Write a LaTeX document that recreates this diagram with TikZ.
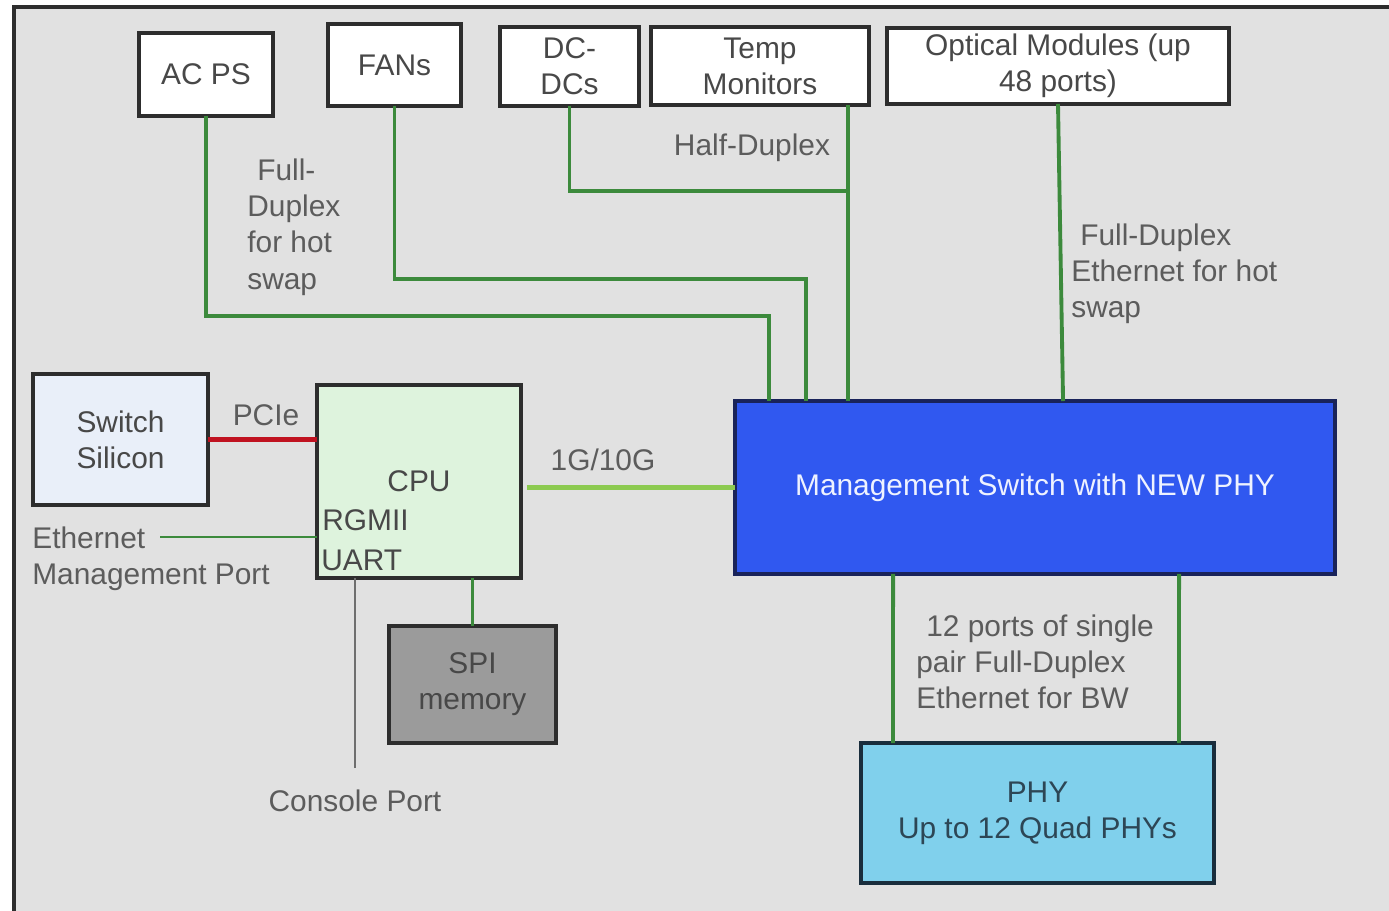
\documentclass[tikz,border=0pt]{standalone}
\usepackage{fontspec}
\setmainfont{Liberation Sans}
\usetikzlibrary{calc}
\definecolor{bgc}{RGB}{225,225,225}
\definecolor{framec}{RGB}{45,45,45}
\definecolor{gline}{RGB}{60,138,60}
\definecolor{lgline}{RGB}{140,202,80}
\definecolor{redl}{RGB}{192,18,32}
\definecolor{labc}{RGB}{92,92,92}
\definecolor{boxtxt}{RGB}{72,72,72}
\definecolor{mgmtc}{RGB}{48,88,240}
\definecolor{phyc}{RGB}{128,208,236}
\definecolor{spic}{RGB}{155,155,155}
\definecolor{swc}{RGB}{233,239,249}
\definecolor{cpuc}{RGB}{222,243,221}
\tikzset{
  txt/.style={font=\fontsize{17}{20.6}\selectfont},
  box/.style={draw=framec, line width=2pt, fill=white, inner sep=0pt, outer sep=0pt,
     align=center, text=boxtxt, txt},
  lab/.style={inner sep=0pt, text=labc, txt},
  wire/.style={draw=gline, line width=2.2pt},
}
\begin{document}
\begin{tikzpicture}[x=0.02cm,y=-0.02cm]
\useasboundingbox (0,0) rectangle (1389,911);
\fill[white] (0,0) rectangle (1389,911);
\fill[bgc] (14,7) rectangle (1389,911);
\draw[framec, line width=2pt] (14,911) -- (14,7) -- (1389,7);

% top boxes
\node[box, minimum width=2.68cm, minimum height=1.66cm] (acps) at (206,74.5) {AC PS};
\node[box, minimum width=2.66cm, minimum height=1.64cm] (fans) at (394.5,65) {FANs};
\node[box, minimum width=2.78cm, minimum height=1.58cm] (dcdc) at (569.5,66.5) {DC-\\DCs};
\node[box, minimum width=4.36cm, minimum height=1.56cm] (temp) at (760,66) {Temp\\Monitors};
\node[box, minimum width=6.84cm, minimum height=1.52cm] (optical) at (1058,66) {Optical Modules (up\\48 ports)};

% middle boxes
\node[box, fill=swc, minimum width=3.50cm, minimum height=2.62cm] (sw) at (120.5,439.5) {Switch\\Silicon};
\node[box, fill=cpuc, minimum width=4.08cm, minimum height=3.86cm] (cpu) at (419,481.5) {CPU};
\node[box, fill=spic, minimum width=3.34cm, minimum height=2.34cm] (spi) at (472.5,684.5) {SPI\\memory};
\node[box, fill=mgmtc, draw={rgb,255:red,25;green,35;blue,90}, text={rgb,255:red,238;green,242;blue,255},
      minimum width=12.00cm, minimum height=3.46cm] (mgmt) at (1035,487.5) {Management Switch with NEW PHY};
\node[box, fill=phyc, draw={rgb,255:red,25;green,45;blue,60}, text={rgb,255:red,45;green,70;blue,85},
      minimum width=7.06cm, minimum height=2.80cm] (phy) at (1037.5,813) {PHY\\Up to 12 Quad PHYs};

% CPU inner labels
\node[lab, anchor=west, text=boxtxt] (rgmii) at (322,520) {RGMII};
\node[lab, anchor=west, text=boxtxt] (uart) at (321,560) {UART};

% coordinates
\coordinate (acbend) at (769,316);
\coordinate (fanbend) at (806,279);
\coordinate (tempx) at (848,105);
\coordinate (dcbend) at (848,191);
\coordinate (ethend) at (160,537);
\coordinate (conend) at (355,768);
\coordinate (gstart) at ($(cpu.east)+(6,0)$);

% wires to management switch
\draw[wire] (acps.south) |- (acbend) -- (acbend |- mgmt.north);
\draw[wire] (fans.south) |- (fanbend) -- (fanbend |- mgmt.north);
\draw[wire] (dcdc.south) |- (dcbend);
\draw[wire] (tempx) -- (tempx |- mgmt.north);
\draw[wire] (optical.south) -- ($(mgmt.north west)+(328,0)$);
\draw[wire] ($(mgmt.south west)+(158,0)$) -- ($(phy.north west)+(32,0)$);
\draw[wire] ($(mgmt.south west)+(444,0)$) -- ($(phy.north east)+(-35,0)$);
\draw[wire] (cpu.south -| spi.north) -- (spi.north);
\draw[draw=lgline, line width=2.6pt] (gstart |- mgmt.west) -- (mgmt.west);
\draw[draw=redl, line width=2.8pt] (sw.east) -- (sw.east -| cpu.west);
\draw[draw=gline, line width=1pt] (ethend) -- (ethend -| cpu.west);
\draw[draw={rgb,255:red,110;green,110;blue,110}, line width=1pt] (conend) -- (conend |- cpu.south);

% labels
\node[lab, anchor=west, align=left] (fdl) at (247,227) {\hspace*{0.2cm}Full-\\Duplex\\for hot\\swap};
\node[lab] (hd) at (752,148) {Half-Duplex};
\node[lab, anchor=west, align=left] (fdr) at (1071,274) {\hspace*{0.18cm}Full-Duplex\\Ethernet for hot\\swap};
\node[lab] (pcie) at (266,415) {PCIe};
\node[lab] (gig) at (603,460) {1G/10G};
\node[lab, anchor=west, align=left] (ethlbl) at (32,559) {Ethernet\\Management Port};
\node[lab] (conlbl) at (355,801) {Console Port};
\node[lab, anchor=west, align=left] (ports) at (916,662) {\hspace*{0.2cm}12 ports of single\\pair Full-Duplex\\Ethernet for BW};
\end{tikzpicture}
\end{document}
